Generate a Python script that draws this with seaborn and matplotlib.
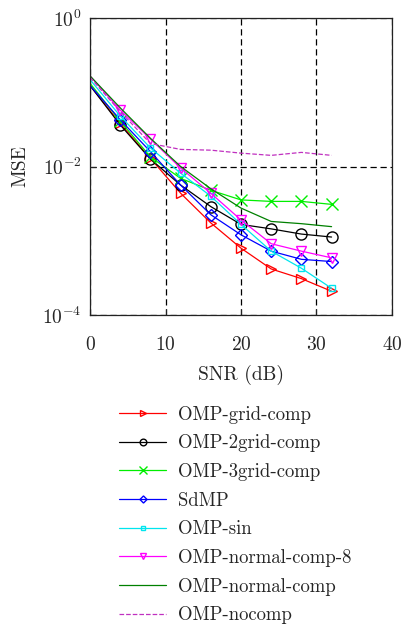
import numpy as np
import pandas as pd
import matplotlib
matplotlib.use('Agg')
import matplotlib.pyplot as plt
import seaborn as sns

# SNR points (dB)
snr = [0, 4, 8, 12, 16, 20, 24, 28, 32]

# log10(MSE)
grid_comp = [-0.91, -1.42, -1.89, -2.36, -2.76, -3.10, -3.38, -3.51, -3.68]
grid2_comp = [-0.91, -1.44, -1.90, -2.25, -2.54, -2.78, -2.84, -2.91, -2.95]
grid3_comp = [-0.88, -1.39, -1.87, -2.16, -2.32, -2.45, -2.47, -2.47, -2.51]
sdmp = [-0.91, -1.37, -1.80, -2.25, -2.65, -2.92, -3.14, -3.25, -3.28]
omp_sin = [-0.83, -1.32, -1.75, -2.09, -2.40, -2.78, -3.14, -3.37, -3.64]
normal_comp8 = [-0.78, -1.24, -1.63, -2.02, -2.36, -2.72, -3.04, -3.14, -3.23]
normal_comp = [-0.78, -1.21, -1.62, -2.00, -2.30, -2.56, -2.74, -2.77, -2.81]
nocomp = [-0.80, -1.26, -1.69, -1.77, -1.78, -1.82, -1.85, -1.81, -1.85]

labels = ['OMP-grid-comp', 'OMP-2grid-comp', 'OMP-3grid-comp', 'SdMP',
          'OMP-sin', 'OMP-normal-comp-8', 'OMP-normal-comp', 'OMP-nocomp']
series = [grid_comp, grid2_comp, grid3_comp, sdmp, omp_sin, normal_comp8,
          normal_comp, nocomp]

styles = [
    dict(color='#ff0000', marker='>', ms=7, ls='-'),
    dict(color='#000000', marker='o', ms=8, ls='-'),
    dict(color='#00ee00', marker='x', ms=9, ls='-'),
    dict(color='#0000ff', marker='D', ms=6, ls='-'),
    dict(color='#00e5ee', marker='s', ms=4.5, ls='-'),
    dict(color='#ff00ff', marker='v', ms=7, ls='-'),
    dict(color='#008000', marker=None, ms=0, ls='-'),
    dict(color='#c030c0', marker=None, ms=0, ls='--'),
]

sns.set_style('ticks')
plt.rcParams['font.family'] = ['cmr10', 'DejaVu Serif']
plt.rcParams['mathtext.fontset'] = 'cm'
plt.rcParams['axes.formatter.use_mathtext'] = True
plt.rcParams['axes.unicode_minus'] = False

fig = plt.figure(figsize=(4.02, 6.25), dpi=100)
ax = fig.add_axes([0.224, 0.496, 0.751, 0.4752])

for lab, vals, st in zip(labels, series, styles):
    df = pd.DataFrame({'snr': snr, 'mse': 10 ** np.array(vals)})
    kw = dict(color=st['color'], linestyle=st['ls'], linewidth=0.9, label=lab)
    if st['marker']:
        kw.update(marker=st['marker'], markersize=st['ms'],
                  markerfacecolor='none', markeredgecolor=st['color'],
                  markeredgewidth=1.0, markevery=slice(1, None))
    sns.lineplot(data=df, x='snr', y='mse', ax=ax, **kw)

ax.set_yscale('log')
ax.set_xlim(0, 40)
ax.set_ylim(1e-4, 1)
ax.set_xticks([0, 10, 20, 30, 40])
ax.set_yticks([1e-4, 1e-2, 1])
ax.yaxis.set_minor_locator(matplotlib.ticker.NullLocator())
ax.tick_params(direction='in', length=4, labelsize=14, width=0.8)
ax.tick_params(axis='x', pad=15)
ax.tick_params(axis='y', pad=6)
for sp in ax.spines.values():
    sp.set_linewidth(0.9)
    sp.set_color('#222222')
ax.grid(True, which='major', color='black', linestyle=(0, (5, 3)), linewidth=0.9)
ax.set_xlabel('SNR (dB)', fontsize=14, labelpad=8)
ax.set_ylabel('MSE', fontsize=14, labelpad=9)

ax.legend(loc='upper left', bbox_to_anchor=(0.297, 0.351), bbox_transform=fig.transFigure,
          frameon=False, fontsize=13.5, handlelength=2.5, handletextpad=0.6,
          labelspacing=0.57, markerscale=0.6, borderaxespad=0, borderpad=0)

fig.savefig('out.png', dpi=100)
